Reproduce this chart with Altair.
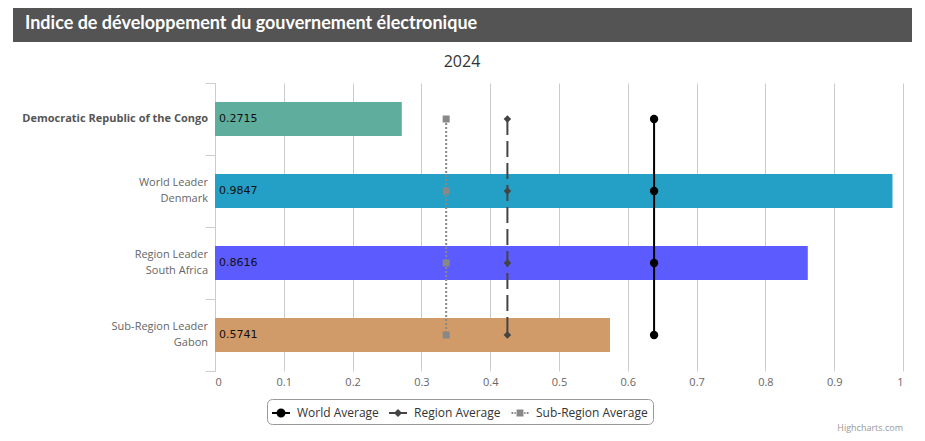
import altair as alt
import pandas as pd

# ---------------- data ----------------
categories = [
    "Democratic Republic of the Congo",
    "World Leader|Denmark",
    "Region Leader|South Africa",
    "Sub-Region Leader|Gabon",
]
egdi_values = [0.2715, 0.9847, 0.8616, 0.5741]
bar_colors = ["#5fae9d", "#249fc5", "#5b5bfe", "#d19b69"]

series_names = ["World Average", "Region Average", "Sub-Region Average"]
world_avg = [0.6382, 0.6382, 0.6382, 0.6382]
region_avg = [0.4250, 0.4250, 0.4250, 0.4250]
subregion_avg = [0.3360, 0.3360, 0.3360, 0.3360]
series_colors = ["#000000", "#444444", "#888888"]
series_dash = [[1, 0], [16, 6], [2, 2]]
marker_shapes = ["circle", "diamond", "square"]
marker_sizes = [70, 56, 49]

x_ticks = [0, 0.1, 0.2, 0.3, 0.4, 0.5, 0.6, 0.7, 0.8, 0.9, 1]

title_text = "Indice de développement du gouvernement électronique"
subtitle_text = "2024"
credit_text = "Highcharts.com"

# legend symbols: line segment + marker (unit space [-1, 1]), polygons only
legend_paths = [
    "M-1,-0.11L1,-0.11L1,0.11L-1,0.11Z "
    "M0.5,0L0.46,0.19L0.35,0.35L0.19,0.46L0,0.5L-0.19,0.46L-0.35,0.35L-0.46,0.19L-0.5,0"
    "L-0.46,-0.19L-0.35,-0.35L-0.19,-0.46L0,-0.5L0.19,-0.46L0.35,-0.35L0.46,-0.19Z",
    "M-1,-0.11L1,-0.11L1,0.11L-1,0.11Z M0,-0.45L0.45,0L0,0.45L-0.45,0Z",
    "M-0.95,-0.11L-0.75,-0.11L-0.75,0.11L-0.95,0.11Z M-0.62,-0.11L-0.47,-0.11L-0.47,0.11L-0.62,0.11Z "
    "M-0.38,-0.38L0.38,-0.38L0.38,0.38L-0.38,0.38Z M0.47,-0.11L0.62,-0.11L0.62,0.11L0.47,0.11Z "
    "M0.75,-0.11L0.95,-0.11L0.95,0.11L0.75,0.11Z",
]

# ---------------- tables ----------------
bars_df = pd.DataFrame({"cat": categories, "value": egdi_values})

avg_rows = []
for name, vals in zip(series_names, [world_avg, region_avg, subregion_avg]):
    for c, v in zip(categories, vals):
        avg_rows.append({"series": name, "cat": c, "avg": v})
avg_df = pd.DataFrame(avg_rows)

legend_df = pd.DataFrame(
    {"series": series_names, "avg": [world_avg[0], region_avg[0], subregion_avg[0]], "cat": categories[0]}
)

W, H = 688, 288

y_enc = alt.Y(
    "cat:N",
    sort=categories,
    scale=alt.Scale(domain=categories, paddingInner=0, paddingOuter=0),
    axis=alt.Axis(
        title=None,
        tickBand="extent",
        domainColor="#cccccc",
        tickColor="#cccccc",
        tickSize=10,
        labels=False,
        grid=False,
    ),
)

x_enc = alt.X(
    "value:Q",
    scale=alt.Scale(domain=[0, 1], nice=False),
    axis=alt.Axis(
        title=None,
        values=x_ticks,
        format=".1~f",
        domain=False,
        ticks=False,
        grid=True,
        gridColor="#cccccc",
        labelColor="#666666",
        labelFont="Open Sans",
        labelFontSize=11,
        labelPadding=5,
    ),
)

bars = alt.Chart(bars_df).mark_bar(height=34).encode(
    x=x_enc,
    y=y_enc,
    color=alt.Color("cat:N", scale=alt.Scale(domain=categories, range=bar_colors), legend=None),
)

# category labels (left of the axis), drawn through the y scale
cat_label_single = alt.Chart(bars_df).transform_filter(
    "indexof(datum.cat, '|') < 0"
).mark_text(
    align="right", baseline="middle", font="Open Sans", fontSize=11, fontWeight="bold", color="#555555"
).encode(
    x=alt.value(-7), y=alt.Y("cat:N", sort=categories), text="cat:N"
)
cat_label_multi = alt.Chart(bars_df).transform_filter(
    "indexof(datum.cat, '|') >= 0"
).mark_text(
    align="right", baseline="middle", font="Open Sans", fontSize=11, color="#666666",
    lineBreak="|", lineHeight=16, dy=-8,
).encode(
    x=alt.value(-7), y=alt.Y("cat:N", sort=categories), text="cat:N"
)

bar_labels = alt.Chart(bars_df).mark_text(
    align="left", baseline="middle", dx=4, font="DejaVu Sans", fontSize=11, color="#111111"
).encode(
    x=alt.datum(0),
    y=alt.Y("cat:N", sort=categories),
    text=alt.Text("value:Q", format=".4f"),
)

line_layers = []
marker_layers = []
for name, shp, sz, col, dash in zip(series_names, marker_shapes, marker_sizes, series_colors, series_dash):
    line_layers.append(
        alt.Chart(avg_df)
        .transform_filter(alt.datum.series == name)
        .mark_line(strokeWidth=2, color=col, strokeDash=dash)
        .encode(x="avg:Q", y=alt.Y("cat:N", sort=categories))
    )
    marker_layers.append(
        alt.Chart(avg_df)
        .transform_filter(alt.datum.series == name)
        .mark_point(shape=shp, size=sz, filled=True, color=col, opacity=1)
        .encode(x="avg:Q", y=alt.Y("cat:N", sort=categories))
    )

legend_props = dict(
    title=None,
    orient="none",
    legendX=52,
    legendY=316,
    direction="horizontal",
    strokeColor="#999999",
    cornerRadius=5,
    padding=5,
    fillColor="white",
    labelFont="Open Sans",
    labelFontSize=12,
    labelColor="#333333",
    labelOffset=7,
    columnPadding=10,
    symbolSize=324,
    symbolStrokeWidth=0,
    symbolOpacity=1,
)

legend_layer = alt.Chart(legend_df).mark_point(filled=True, opacity=0).encode(
    x="avg:Q",
    y=alt.Y("cat:N", sort=categories),
    fill=alt.Fill(
        "series:N",
        scale=alt.Scale(domain=series_names, range=series_colors),
        legend=alt.Legend(**legend_props),
    ),
    shape=alt.Shape(
        "series:N",
        scale=alt.Scale(domain=series_names, range=legend_paths),
        legend=alt.Legend(**legend_props),
    ),
)

one = alt.Data(values=[{}])

title_bar = alt.Chart(one).mark_rect(color="#545454").encode(
    x=alt.value(-202), x2=alt.value(697), y=alt.value(-75), y2=alt.value(-41)
)
title_mark = alt.Chart(one).mark_text(
    text=title_text, align="left", baseline="middle", font="Lato", fontWeight="bold", fontSize=18, color="white"
).encode(x=alt.value(-190), y=alt.value(-59))
subtitle_mark = alt.Chart(one).mark_text(
    text=subtitle_text, align="center", baseline="middle", font="Open Sans", fontSize=16, color="#333333"
).encode(x=alt.value(247), y=alt.value(-21))
credit_mark = alt.Chart(one).mark_text(
    text=credit_text, align="right", baseline="bottom", font="Open Sans", fontSize=9, color="#999999"
).encode(x=alt.value(688), y=alt.value(350))

chart = alt.layer(
    title_bar, title_mark, subtitle_mark, credit_mark,
    bars, *line_layers, *marker_layers, bar_labels, cat_label_single, cat_label_multi, legend_layer,
).properties(
    width=W,
    height=H,
    autosize=alt.AutoSizeParams(type="none"),
    padding={"left": 207, "top": 75, "right": 14, "bottom": 62},
    background="white",
).configure_view(stroke=None)

chart.save("out.html", embed_options={"renderer": "svg", "actions": False})
